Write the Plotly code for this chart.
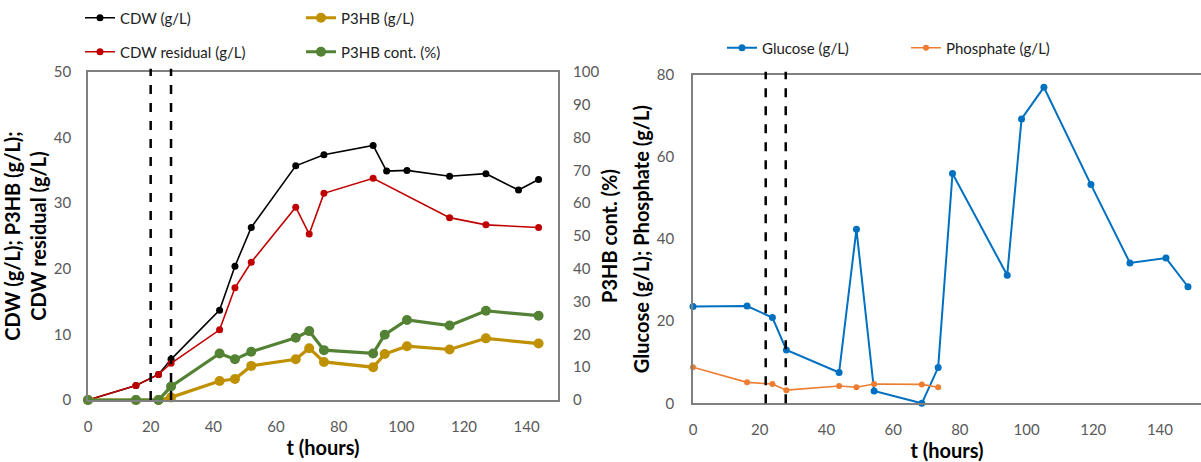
import plotly.graph_objects as go

# ---------------- data (left chart) ----------------
t_cdw = [0, 15.3, 22.5, 26.5, 42.0, 46.9, 52.1, 66.3, 75.3, 91.0, 95.3, 101.8, 115.4, 127.0, 137.4, 143.8]
cdw = [0, 2.2, 3.9, 6.2, 13.7, 20.4, 26.3, 35.7, 37.4, 38.8, 34.9, 35.0, 34.1, 34.5, 32.0, 33.6]

t_res = [0, 15.3, 22.5, 26.5, 42.0, 46.9, 52.1, 66.3, 70.6, 75.3, 91.0, 115.4, 127.0, 143.8]
cdw_res = [0, 2.2, 3.9, 5.6, 10.7, 17.1, 21.0, 29.4, 25.3, 31.5, 33.8, 27.8, 26.7, 26.3]

t_p3hb = [0, 15.3, 22.5, 26.5, 42.0, 46.9, 52.1, 66.3, 70.6, 75.3, 91.0, 94.7, 101.8, 115.4, 127.0, 143.8]
p3hb = [0, 0, 0, 0.4, 2.9, 3.2, 5.2, 6.2, 7.9, 5.8, 5.0, 7.0, 8.2, 7.7, 9.4, 8.6]
p3hb_cont = [0, 0, 0, 4.1, 14.2, 12.4, 14.7, 19.0, 21.0, 15.2, 14.2, 19.9, 24.4, 22.7, 27.2, 25.7]

feed_left = [20.0, 26.5]

# ---------------- data (right chart) ----------------
t_glc = [0, 16.2, 23.8, 28.0, 43.8, 49.0, 54.3, 68.6, 73.5, 77.8, 94.2, 98.5, 105.2, 119.3, 131.0, 141.8, 148.4]
glucose = [23.6, 23.7, 20.9, 13.0, 7.5, 42.4, 3.0, 0.0, 8.7, 56.0, 31.2, 69.3, 77.0, 53.3, 34.2, 35.4, 28.4]

t_pho = [0, 16.2, 23.8, 28.0, 43.8, 49.0, 54.3, 68.6, 73.5]
phosphate = [8.8, 5.1, 4.7, 3.2, 4.2, 3.9, 4.7, 4.6, 3.9]

feed_right = [21.8, 27.8]

x_ticks = [0, 20, 40, 60, 80, 100, 120, 140]

# ---------------- figure ----------------
W, H = 1201, 462
FONT = "Lato"
TICKC = "#595959"
AXC = "#808080"

def px(x):
    return x / W

def py(y):
    return 1 - y / H

fig = go.Figure()

fig.add_trace(go.Scatter(x=t_cdw, y=cdw, name="CDW (g/L)", mode="lines+markers",
                         line=dict(color="#000000", width=1.6), marker=dict(size=7),
                         xaxis="x", yaxis="y", legend="legend", cliponaxis=False))
fig.add_trace(go.Scatter(x=t_res, y=cdw_res, name="CDW residual (g/L)", mode="lines+markers",
                         line=dict(color="#C00000", width=1.6), marker=dict(size=7),
                         xaxis="x", yaxis="y", legend="legend2", cliponaxis=False))
fig.add_trace(go.Scatter(x=t_p3hb, y=p3hb, name="P3HB (g/L)", mode="lines+markers",
                         line=dict(color="#BF9000", width=3.2), marker=dict(size=10),
                         xaxis="x", yaxis="y", legend="legend", cliponaxis=False))
fig.add_trace(go.Scatter(x=t_p3hb, y=p3hb_cont, name="P3HB cont. (%)", mode="lines+markers",
                         line=dict(color="#548235", width=3.2), marker=dict(size=10),
                         xaxis="x", yaxis="y2", legend="legend2", cliponaxis=False))

fig.add_trace(go.Scatter(x=t_glc, y=glucose, name="Glucose (g/L)", mode="lines+markers",
                         line=dict(color="#0070C0", width=2), marker=dict(size=7),
                         xaxis="x2", yaxis="y3", legend="legend3", cliponaxis=False))
fig.add_trace(go.Scatter(x=t_pho, y=phosphate, name="Phosphate (g/L)", mode="lines+markers",
                         line=dict(color="#ED7D31", width=1.6), marker=dict(size=6),
                         xaxis="x2", yaxis="y3", legend="legend3", cliponaxis=False))

for t in feed_left:
    fig.add_shape(type="line", xref="x", yref="y domain", x0=t, x1=t, y0=0, y1=1.01,
                  line=dict(color="black", width=2.5, dash="dash"))
for t in feed_right:
    fig.add_shape(type="line", xref="x2", yref="y3 domain", x0=t, x1=t, y0=0, y1=1.01,
                  line=dict(color="black", width=2.5, dash="dash"))

tickfont = dict(family=FONT, size=15, color=TICKC)
titlefont = dict(family=FONT, size=20, color="black", weight="bold")

common_x = dict(showgrid=False, zeroline=False, showline=True, linecolor=AXC, linewidth=1.5,
                mirror=True, ticks="", tickvals=x_ticks, tickfont=tickfont, ticklabelstandoff=12,
                automargin=False,
                title=dict(text="t (hours)", font=titlefont, standoff=2))

legfont = dict(family=FONT, size=15, color="#222222")
leg_common = dict(orientation="h", xanchor="left", yanchor="middle", xref="container",
                  yref="container", entrywidthmode="pixels", font=legfont,
                  bgcolor="rgba(0,0,0,0)", traceorder="normal", borderwidth=0)

fig.update_layout(
    width=W, height=H,
    margin=dict(l=0, r=0, t=0, b=0, autoexpand=False),
    plot_bgcolor="white", paper_bgcolor="white",
    showlegend=True,
    xaxis=dict(domain=[px(88), px(558)], range=[0, 150], anchor="y", **common_x),
    yaxis=dict(domain=[py(400), py(72)], range=[0, 50], dtick=10, showgrid=False, zeroline=False,
               showline=True, linecolor=AXC, linewidth=1.5, mirror=True, ticks="", tickfont=tickfont,
               ticklabelstandoff=12, automargin=False,
               title=dict(text="CDW (g/L); P3HB (g/L);<br>CDW residual (g/L)", font=titlefont, standoff=2)),
    yaxis2=dict(overlaying="y", side="right", anchor="x", range=[0, 100], dtick=10, showgrid=False,
                zeroline=False, showline=False, ticks="", tickfont=tickfont, ticklabelstandoff=14,
                automargin=False,
                title=dict(text="P3HB cont. (%)", font=titlefont, standoff=4)),
    xaxis2=dict(domain=[px(693), 1.0], range=[0, 152.3], anchor="y3", **common_x),
    yaxis3=dict(domain=[py(403.3), py(75)], range=[0, 80], dtick=20, anchor="x2", showgrid=False,
                zeroline=False, showline=True, linecolor=AXC, linewidth=1.5, mirror=True, ticks="",
                tickfont=tickfont, ticklabelstandoff=14, automargin=False,
                title=dict(text="Glucose (g/L); Phosphate (g/L)", font=titlefont, standoff=2)),
    legend=dict(x=px(80), y=py(18), entrywidth=176, **leg_common),
    legend2=dict(x=px(80), y=py(52), entrywidth=176, **leg_common),
    legend3=dict(x=px(722), y=py(48), entrywidth=139, **leg_common),
)

fig.write_html("out.html")
